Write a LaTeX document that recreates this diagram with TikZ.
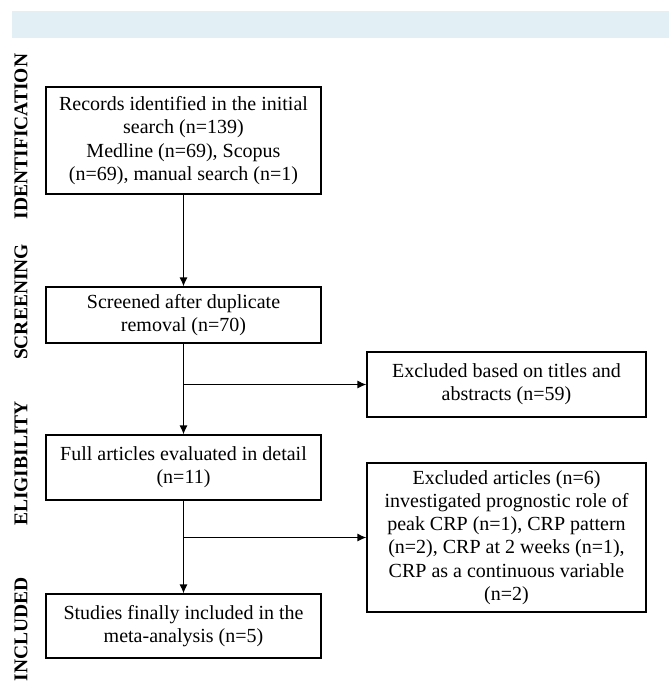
\documentclass[tikz,border=0pt]{standalone}
\usepackage{fontspec}
\setmainfont{Liberation Serif}
\usetikzlibrary{arrows.meta}
\definecolor{bandblue}{HTML}{E2F0F5}
\tikzset{
stagebox/.style={draw, line width=1.2pt, align=center, inner sep=0pt,
  minimum width=275pt, font=\fontsize{20}{23.3}\selectfont},
exclbox/.style={stagebox, minimum width=279pt},
phase/.style={rotate=90, inner sep=0pt, font=\fontsize{19.5}{22}\selectfont\bfseries},
flow/.style={line width=1.2pt, -{Latex[length=9pt,width=8pt]}}
}

\begin{document}
\begin{tikzpicture}[x=1pt, y=-1pt]
  \clip (0,0) rectangle (669,681);
  \fill[bandblue] (12,11) rectangle (669,38);
  % phases on the left
  \node[phase] (pid) at (21,136.5) {IDENTIFICATION};
  \node[phase] (psc) at (21,302) {SCREENING};
  \node[phase] (pel) at (21,463.5) {ELIGIBILITY};
  \node[phase] (pin) at (21,629.5) {INCLUDED};
  % main column
  \node[stagebox, minimum height=107pt] (records) at (183.5,140.5)
    {Records identified in the initial\\ search (n=139)\\ Medline (n=69), Scopus\\ (n=69), manual search (n=1)};
  \node[stagebox, minimum height=56pt] (screened) at (183.5,315)
    {Screened after duplicate\\ removal (n=70)};
  \node[stagebox, minimum height=65pt] (full) at (183.5,467.5)
    {Full articles evaluated in detail\\ (n=11)};
  \node[stagebox, minimum height=64pt] (studies) at (183.5,626)
    {Studies finally included in the\\ meta-analysis (n=5)};
  % exclusions
  \node[exclbox, minimum height=65pt] (excl1) at (506.5,384.5)
    {Excluded based on titles and\\ abstracts (n=59)};
  \node[exclbox, minimum height=149pt] (excl2) at (506.5,537.5)
    {Excluded articles (n=6)\\ investigated prognostic role of\\ peak CRP (n=1), CRP pattern\\ (n=2), CRP at 2 weeks (n=1),\\ CRP as a continuous variable\\ (n=2)};
  \draw[flow] (records) -- (screened);
  \draw[flow] (screened) -- (full);
  \draw[flow] (full) -- (studies);
  \draw[flow] (screened.south |- excl1.west) -- (excl1.west);
  \draw[flow] (full.south |- excl2.west) -- (excl2.west);
\end{tikzpicture}
\end{document}
